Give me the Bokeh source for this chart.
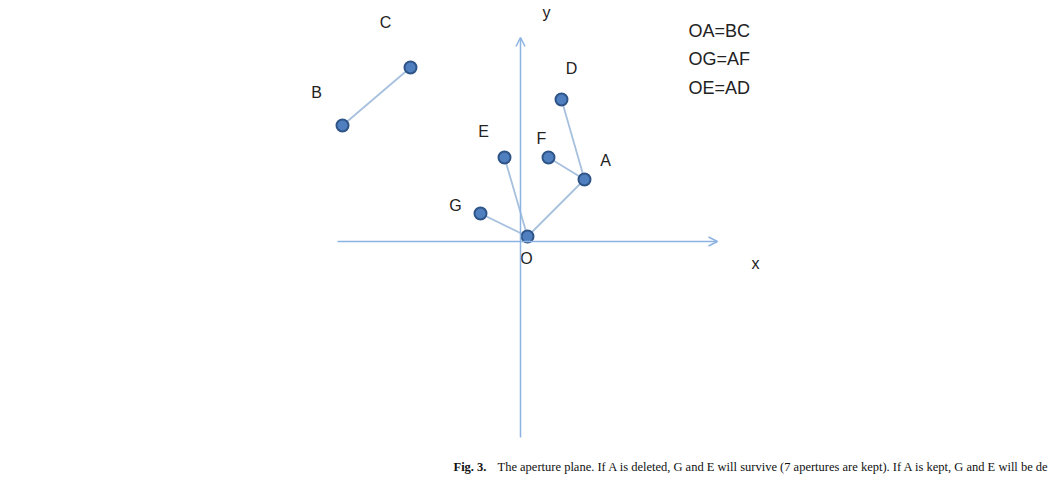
from bokeh.plotting import figure
from bokeh.models import Range1d, Arrow, OpenHead
from bokeh.core.properties import value
from bokeh.embed import file_html
from bokeh.resources import INLINE

# point names and positions (page pixel units)
names = ["O", "A", "D", "F", "E", "G", "B", "C"]
px = [527, 584, 561, 548, 504, 480, 342, 410]
py = [236, 179, 99, 157, 157, 213, 125, 67]

links = [("O", "A"), ("A", "D"), ("A", "F"), ("O", "E"), ("O", "G"), ("B", "C")]

label_x = [526, 605, 571, 541, 483, 455, 316, 385]
label_y = [258, 160, 68, 138, 131, 205, 92, 22]

eq_lines = ["OA=BC", "OG=AF", "OE=AD"]
caption_bold = "Fig. 3."
caption_rest = ("The aperture plane. If A is deleted, G and E will survive (7 apertures are kept). "
                "If A is kept, G and E will be deleted (6 apertures are kept).")

p = figure(width=1048, height=483, output_backend="svg", toolbar_location=None,
           x_range=Range1d(0, 1048), y_range=Range1d(483, 0), min_border=0)
p.axis.visible = False
p.grid.visible = False
p.outline_line_color = None

axis_color = "#8db3e2"
p.add_layout(Arrow(end=OpenHead(size=9, line_color=axis_color, line_width=1.5),
                   x_start=337, y_start=241, x_end=717, y_end=241,
                   line_color=axis_color, line_width=1.5))
p.add_layout(Arrow(end=OpenHead(size=9, line_color=axis_color, line_width=1.5),
                   x_start=520, y_start=437, x_end=520, y_end=37,
                   line_color=axis_color, line_width=1.5))

pos = dict(zip(names, zip(px, py)))
p.segment([pos[a][0] for a, b in links], [pos[a][1] for a, b in links],
          [pos[b][0] for a, b in links], [pos[b][1] for a, b in links],
          line_color="#a7c0de", line_width=1.8)

p.scatter(px, py, size=12, fill_color="#4f7fbf", line_color="#2f5487", line_width=2)

font = value("Liberation Sans")
p.text(label_x, label_y, text=names, text_font=font, text_font_size="16px",
       text_align="center", text_baseline="middle", text_color="#222222")
p.text([755, 546], [263, 12], text=["x", "y"], text_font=font, text_font_size="16px",
       text_align="center", text_baseline="middle", text_color="#222222")
p.text([688] * 3, [30, 58, 87], text=eq_lines, text_font=font, text_font_size="18px",
       text_align="left", text_baseline="middle", text_color="#222222")

serif = value("Liberation Serif")
p.text([453], [466], text=[caption_bold], text_font=serif, text_font_size="12.5px",
       text_font_style="bold", text_baseline="middle", text_color="#111111")
p.text([497], [466], text=[caption_rest], text_font=serif, text_font_size="12.5px",
       text_baseline="middle", text_color="#111111")

open("out.html", "w").write(file_html(p, INLINE))
